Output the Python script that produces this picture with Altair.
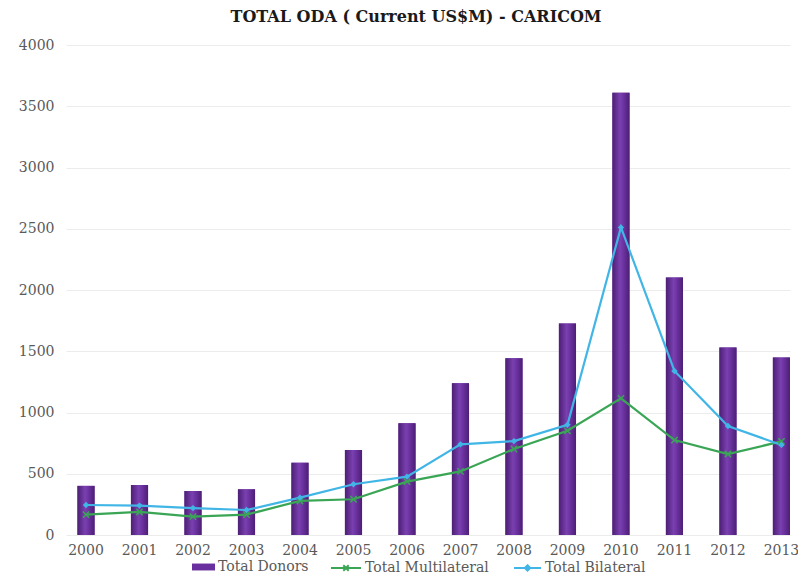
import altair as alt
import pandas as pd

years = ["2000", "2001", "2002", "2003", "2004", "2005", "2006",
         "2007", "2008", "2009", "2010", "2011", "2012", "2013"]
total_donors = [401, 408, 359, 373, 590, 694, 912, 1238, 1442, 1727, 3610, 2102, 1530, 1449]
total_multilateral = [166, 188, 150, 166, 278, 292, 436, 519, 702, 851, 1115, 775, 661, 764]
total_bilateral = [245, 240, 220, 204, 305, 414, 476, 740, 767, 900, 2511, 1339, 890, 735]

PURPLE = "#6a2f9e"
GREEN = "#3aa655"
BLUE = "#41b6e6"

bars_df = pd.DataFrame({"year": years, "value": total_donors, "series": "Total Donors"})
multi_df = pd.DataFrame({"year": years, "value": total_multilateral, "series": "Total Multilateral"})
bi_df = pd.DataFrame({"year": years, "value": total_bilateral, "series": "Total Bilateral"})

x_enc = alt.X("year:O", title=None,
              scale=alt.Scale(paddingInner=0.68, paddingOuter=0.107, align=1),
              axis=alt.Axis(labelAngle=0, domain=False, ticks=False, labelPadding=8,
                            labelFont="DejaVu Serif", labelFontSize=14, labelColor="#595959"))
y_enc = alt.Y("value:Q", title=None,
              scale=alt.Scale(domain=[0, 4000], nice=False),
              axis=alt.Axis(values=[0, 500, 1000, 1500, 2000, 2500, 3000, 3500, 4000],
                            format="d", domain=False, ticks=False, labelPadding=12,
                            labelFont="DejaVu Serif", labelFontSize=14, labelColor="#595959",
                            gridColor="#ececec", gridWidth=1))

common_legend = dict(title=None, orient="none", direction="horizontal", padding=0,
                     labelFont="DejaVu Serif", labelFontSize=14, labelColor="#595959",
                     labelOffset=3, symbolOpacity=1)

bars_legend_layer = alt.Chart(bars_df).mark_bar().encode(
    x=x_enc, y=y_enc,
    fill=alt.Fill("series:N", scale=alt.Scale(domain=["Total Donors"], range=[PURPLE]),
                  legend=alt.Legend(symbolType="M-1,-0.3H1V0.3H-1Z", symbolStrokeWidth=0,
                                    symbolSize=529, legendX=126, legendY=510.5,
                                    **common_legend)),
)

gradient = alt.Gradient(
    gradient="linear", x1=0, x2=1, y1=0, y2=0,
    stops=[
        alt.GradientStop(color="#4c1f75", offset=0),
        alt.GradientStop(color="#7a40b0", offset=0.45),
        alt.GradientStop(color="#6c32a0", offset=0.65),
        alt.GradientStop(color="#4c1f75", offset=1),
    ],
)
bars_grad = alt.Chart(bars_df).mark_bar(color=gradient).encode(x=x_enc, y=y_enc)

multi_line = alt.Chart(multi_df).mark_line(strokeWidth=2.2).encode(
    x=x_enc, y=y_enc,
    stroke=alt.Stroke("series:N", scale=alt.Scale(domain=["Total Multilateral"], range=[GREEN]),
                      legend=alt.Legend(symbolType="M-1,0H1M-0.18,-0.18L0.18,0.18M-0.18,0.18L0.18,-0.18",
                                        symbolStrokeWidth=2, symbolSize=900, legendX=264,
                                        legendY=507, **common_legend)),
)

bi_line = alt.Chart(bi_df).mark_line(strokeWidth=2.2).encode(
    x=x_enc, y=y_enc,
    color=alt.Color("series:N", scale=alt.Scale(domain=["Total Bilateral"], range=[BLUE]),
                    legend=alt.Legend(symbolType="M-1,0H1M0,-0.2L0.2,0L0,0.2L-0.2,0Z",
                                      symbolStrokeWidth=2, symbolSize=729, legendX=447,
                                      legendY=508.5, **common_legend)),
)

multi_pts = alt.Chart(multi_df).mark_point(
    shape="M-1,-1L1,1M-1,1L1,-1", size=40, stroke=GREEN,
    strokeWidth=1.5, filled=False, opacity=1).encode(x=x_enc, y=y_enc)

bi_pts = alt.Chart(bi_df).mark_point(
    shape="diamond", size=40, color=BLUE, filled=True, opacity=1).encode(x=x_enc, y=y_enc)

chart = alt.layer(bars_legend_layer, bars_grad, multi_line, bi_line, multi_pts, bi_pts).resolve_scale(
    fill="independent", stroke="independent", color="independent"
).properties(
    width=724, height=490,
    title=alt.Title("TOTAL ODA ( Current US$M) - CARICOM", font="DejaVu Serif",
                    fontSize=16, fontWeight="bold", color="#1a1a1a", anchor="middle",
                    offset=13, dx=-12),
    padding={"left": 58, "top": 37, "right": 8, "bottom": 41},
    autosize=alt.AutoSizeParams(type="none"),
).configure_view(stroke=None)

chart.save("out.html", embed_options={"renderer": "svg", "actions": False})
